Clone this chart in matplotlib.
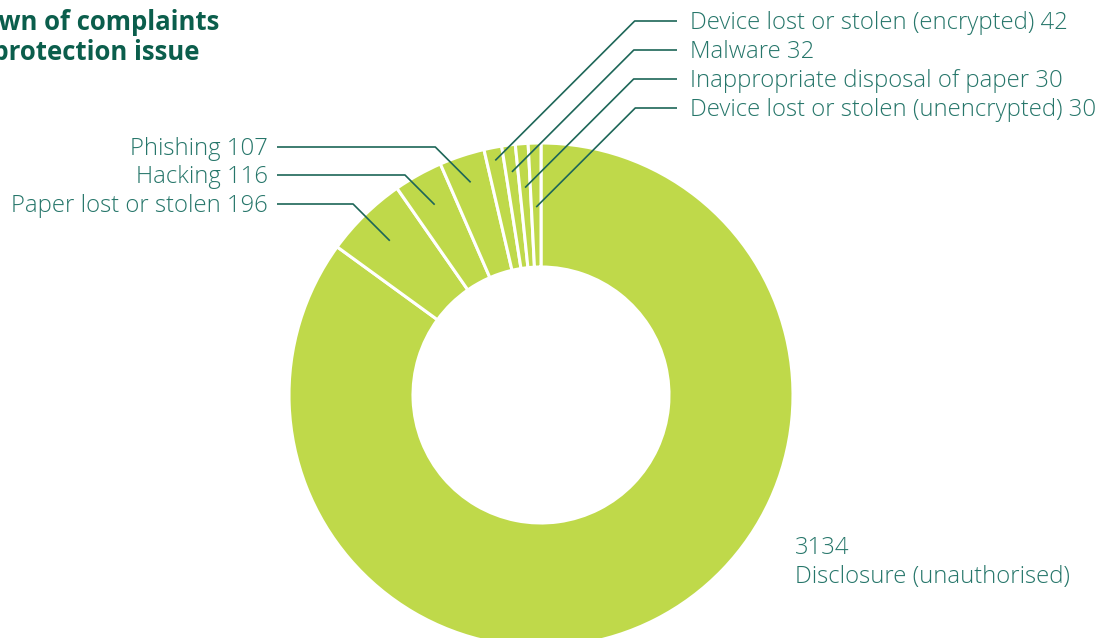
import matplotlib
matplotlib.use("Agg")
import matplotlib.pyplot as plt
import numpy as np

categories = ["Disclosure (unauthorised)", "Paper lost or stolen", "Hacking", "Phishing",
              "Device lost or stolen (encrypted)", "Malware",
              "Inappropriate disposal of paper", "Device lost or stolen (unencrypted)"]
values = [3134, 196, 116, 107, 42, 32, 30, 30]

W, H = 1104, 638
fig = plt.figure(figsize=(W / 100, H / 100), dpi=100)
ax = fig.add_axes([0, 0, 1, 1])

GREEN = "#bfd94a"
TEXT = "#26766a"
LINE = "#1d6658"
TITLE = "#0b5e4c"
FONT = "Open Sans"

cx, cy = 541, H - 395
R, r_in = 252, 128
ax.pie(values, radius=R, center=(cx, cy), startangle=90, counterclock=False,
       colors=[GREEN] * len(values),
       wedgeprops=dict(width=R - r_in, edgecolor="white", linewidth=2.2),
       frame=True)
ax.set_xlim(0, W)
ax.set_ylim(0, H)
ax.set_aspect("equal")
ax.axis("off")

# label layout: (label y in px from top, anchor radius, side)
layout = {
    1: (204, 216, "left"),
    2: (175, 218, "left"),
    3: (147, 224, "left"),
    4: (21, 239, "right"),
    5: (50, 225, "right"),
    6: (79, 208, "right"),
    7: (108, 188, "right"),
}

total = sum(values)
cum = np.cumsum([0] + values)
fs = 17.2
toff = 2  # text vertical nudge (px)
for i, (ly, rr, side) in layout.items():
    mid = cum[i] + values[i] / 2
    ang = np.deg2rad(90 - 360 * mid / total)
    px, py = cx + rr * np.cos(ang), cy + rr * np.sin(ang)
    yl = H - ly
    dy = yl - py
    label = f"{categories[i]} {values[i]}"
    if side == "left":
        ex = px - dy
        ax.plot([px, ex, 277], [py, yl, yl], color=LINE, lw=1.2, solid_capstyle="butt")
        ax.text(268, yl - toff, label, ha="right", va="center", fontsize=fs, color=TEXT,
                family=FONT, fontweight="light")
    else:
        ex = px + dy
        ax.plot([px, ex, 677], [py, yl, yl], color=LINE, lw=1.2, solid_capstyle="butt")
        ax.text(690, yl - toff, label, ha="left", va="center", fontsize=fs, color=TEXT,
                family=FONT, fontweight="light")

ax.text(795, H - 546 - toff, f"{values[0]}", ha="left", va="center", fontsize=fs, color=TEXT,
        family=FONT, fontweight="light")
ax.text(795, H - 575 - toff, categories[0], ha="left", va="center", fontsize=fs, color=TEXT,
        family=FONT, fontweight="light")

ax.text(219, H - 22, "Breakdown of complaints", ha="right", va="center", fontsize=18.5,
        color=TITLE, family=FONT, fontweight="bold")
ax.text(199, H - 53, "by data protection issue", ha="right", va="center", fontsize=18.5,
        color=TITLE, family=FONT, fontweight="bold")

fig.savefig("out.png", dpi=100)
